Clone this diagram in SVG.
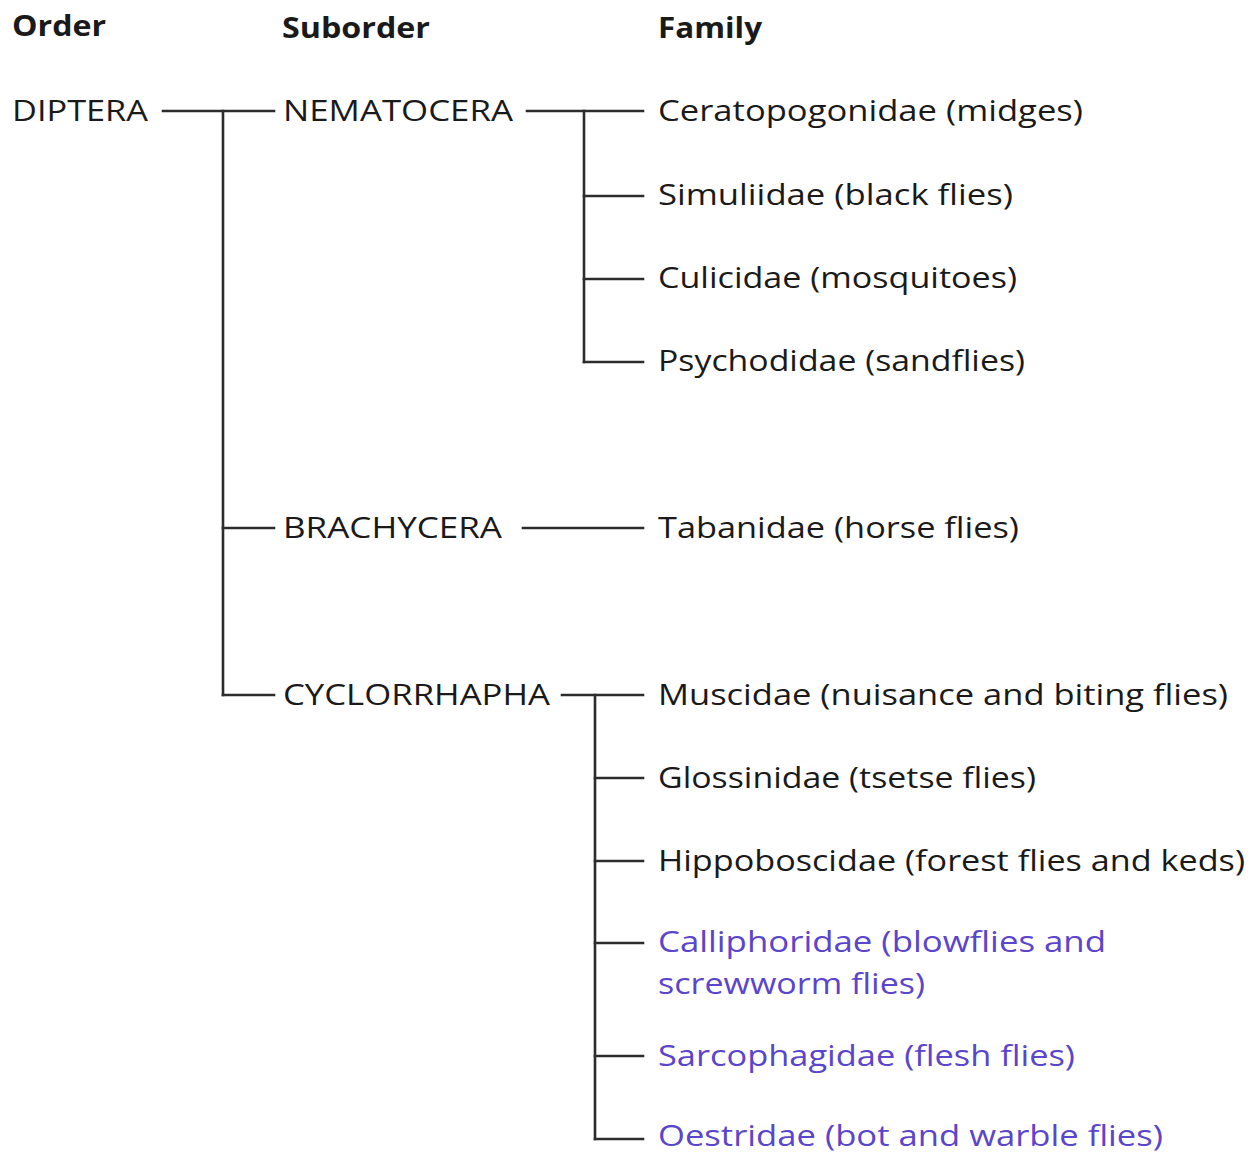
<svg xmlns="http://www.w3.org/2000/svg" width="1255" height="1154" viewBox="0 0 1255 1154">
<style>
text{font-family:"Open Sans","Noto Sans","Liberation Sans",sans-serif;font-size:29px;font-weight:500;fill:#1a1a1a}
.h{font-weight:bold}
.p{fill:#5a45cc}
.c line{stroke:#2c2c2c;stroke-width:2.6;stroke-linecap:square}
</style>
<rect width="1255" height="1154" fill="#fff"/>
<g id="headers">
<text class="h" x="12" y="36" textLength="94" lengthAdjust="spacingAndGlyphs">Order</text>
<text class="h" x="282" y="38" textLength="148" lengthAdjust="spacingAndGlyphs">Suborder</text>
<text class="h" x="658" y="38" textLength="104" lengthAdjust="spacingAndGlyphs">Family</text>
</g>
<g class="c" id="connectors">
<line x1="163" y1="111" x2="274" y2="111"/>
<line x1="223" y1="111" x2="223" y2="695"/>
<line x1="223" y1="528" x2="274" y2="528"/>
<line x1="223" y1="695" x2="274" y2="695"/>
<line x1="527" y1="111" x2="643" y2="111"/>
<line x1="584" y1="111" x2="584" y2="362"/>
<line x1="584" y1="196" x2="643" y2="196"/>
<line x1="584" y1="279" x2="643" y2="279"/>
<line x1="584" y1="362" x2="643" y2="362"/>
<line x1="523" y1="528" x2="643" y2="528"/>
<line x1="562" y1="695" x2="643" y2="695"/>
<line x1="595" y1="695" x2="595" y2="1139"/>
<line x1="595" y1="778" x2="643" y2="778"/>
<line x1="595" y1="861" x2="643" y2="861"/>
<line x1="595" y1="943" x2="643" y2="943"/>
<line x1="595" y1="1056" x2="643" y2="1056"/>
<line x1="595" y1="1139" x2="643" y2="1139"/>
</g>
<g id="diptera"><text x="12" y="121" textLength="136" lengthAdjust="spacingAndGlyphs">DIPTERA</text></g>
<g id="nematocera"><text x="283" y="121" textLength="230" lengthAdjust="spacingAndGlyphs">NEMATOCERA</text></g>
<g id="brachycera"><text x="283" y="538" textLength="219" lengthAdjust="spacingAndGlyphs">BRACHYCERA</text></g>
<g id="cyclorrhapha"><text x="283" y="705" textLength="267" lengthAdjust="spacingAndGlyphs">CYCLORRHAPHA</text></g>
<g id="ceratopogonidae"><text x="658" y="121" textLength="425" lengthAdjust="spacingAndGlyphs">Ceratopogonidae (midges)</text></g>
<g id="simuliidae"><text x="658" y="205" textLength="355" lengthAdjust="spacingAndGlyphs">Simuliidae (black flies)</text></g>
<g id="culicidae"><text x="658" y="288" textLength="359" lengthAdjust="spacingAndGlyphs">Culicidae (mosquitoes)</text></g>
<g id="psychodidae"><text x="658" y="371" textLength="367" lengthAdjust="spacingAndGlyphs">Psychodidae (sandflies)</text></g>
<g id="tabanidae"><text x="658" y="538" textLength="361" lengthAdjust="spacingAndGlyphs">Tabanidae (horse flies)</text></g>
<g id="muscidae"><text x="658" y="705" textLength="570" lengthAdjust="spacingAndGlyphs">Muscidae (nuisance and biting flies)</text></g>
<g id="glossinidae"><text x="658" y="788" textLength="378" lengthAdjust="spacingAndGlyphs">Glossinidae (tsetse flies)</text></g>
<g id="hippoboscidae"><text x="658" y="871" textLength="587" lengthAdjust="spacingAndGlyphs">Hippoboscidae (forest flies and keds)</text></g>
<g id="calliphoridae">
<text class="p" x="658" y="952" textLength="448" lengthAdjust="spacingAndGlyphs">Calliphoridae (blowflies and</text>
<text class="p" x="658" y="994" textLength="267" lengthAdjust="spacingAndGlyphs">screwworm flies)</text>
</g>
<g id="sarcophagidae"><text class="p" x="658" y="1066" textLength="417" lengthAdjust="spacingAndGlyphs">Sarcophagidae (flesh flies)</text></g>
<g id="oestridae"><text class="p" x="658" y="1146" textLength="505" lengthAdjust="spacingAndGlyphs">Oestridae (bot and warble flies)</text></g>
</svg>
